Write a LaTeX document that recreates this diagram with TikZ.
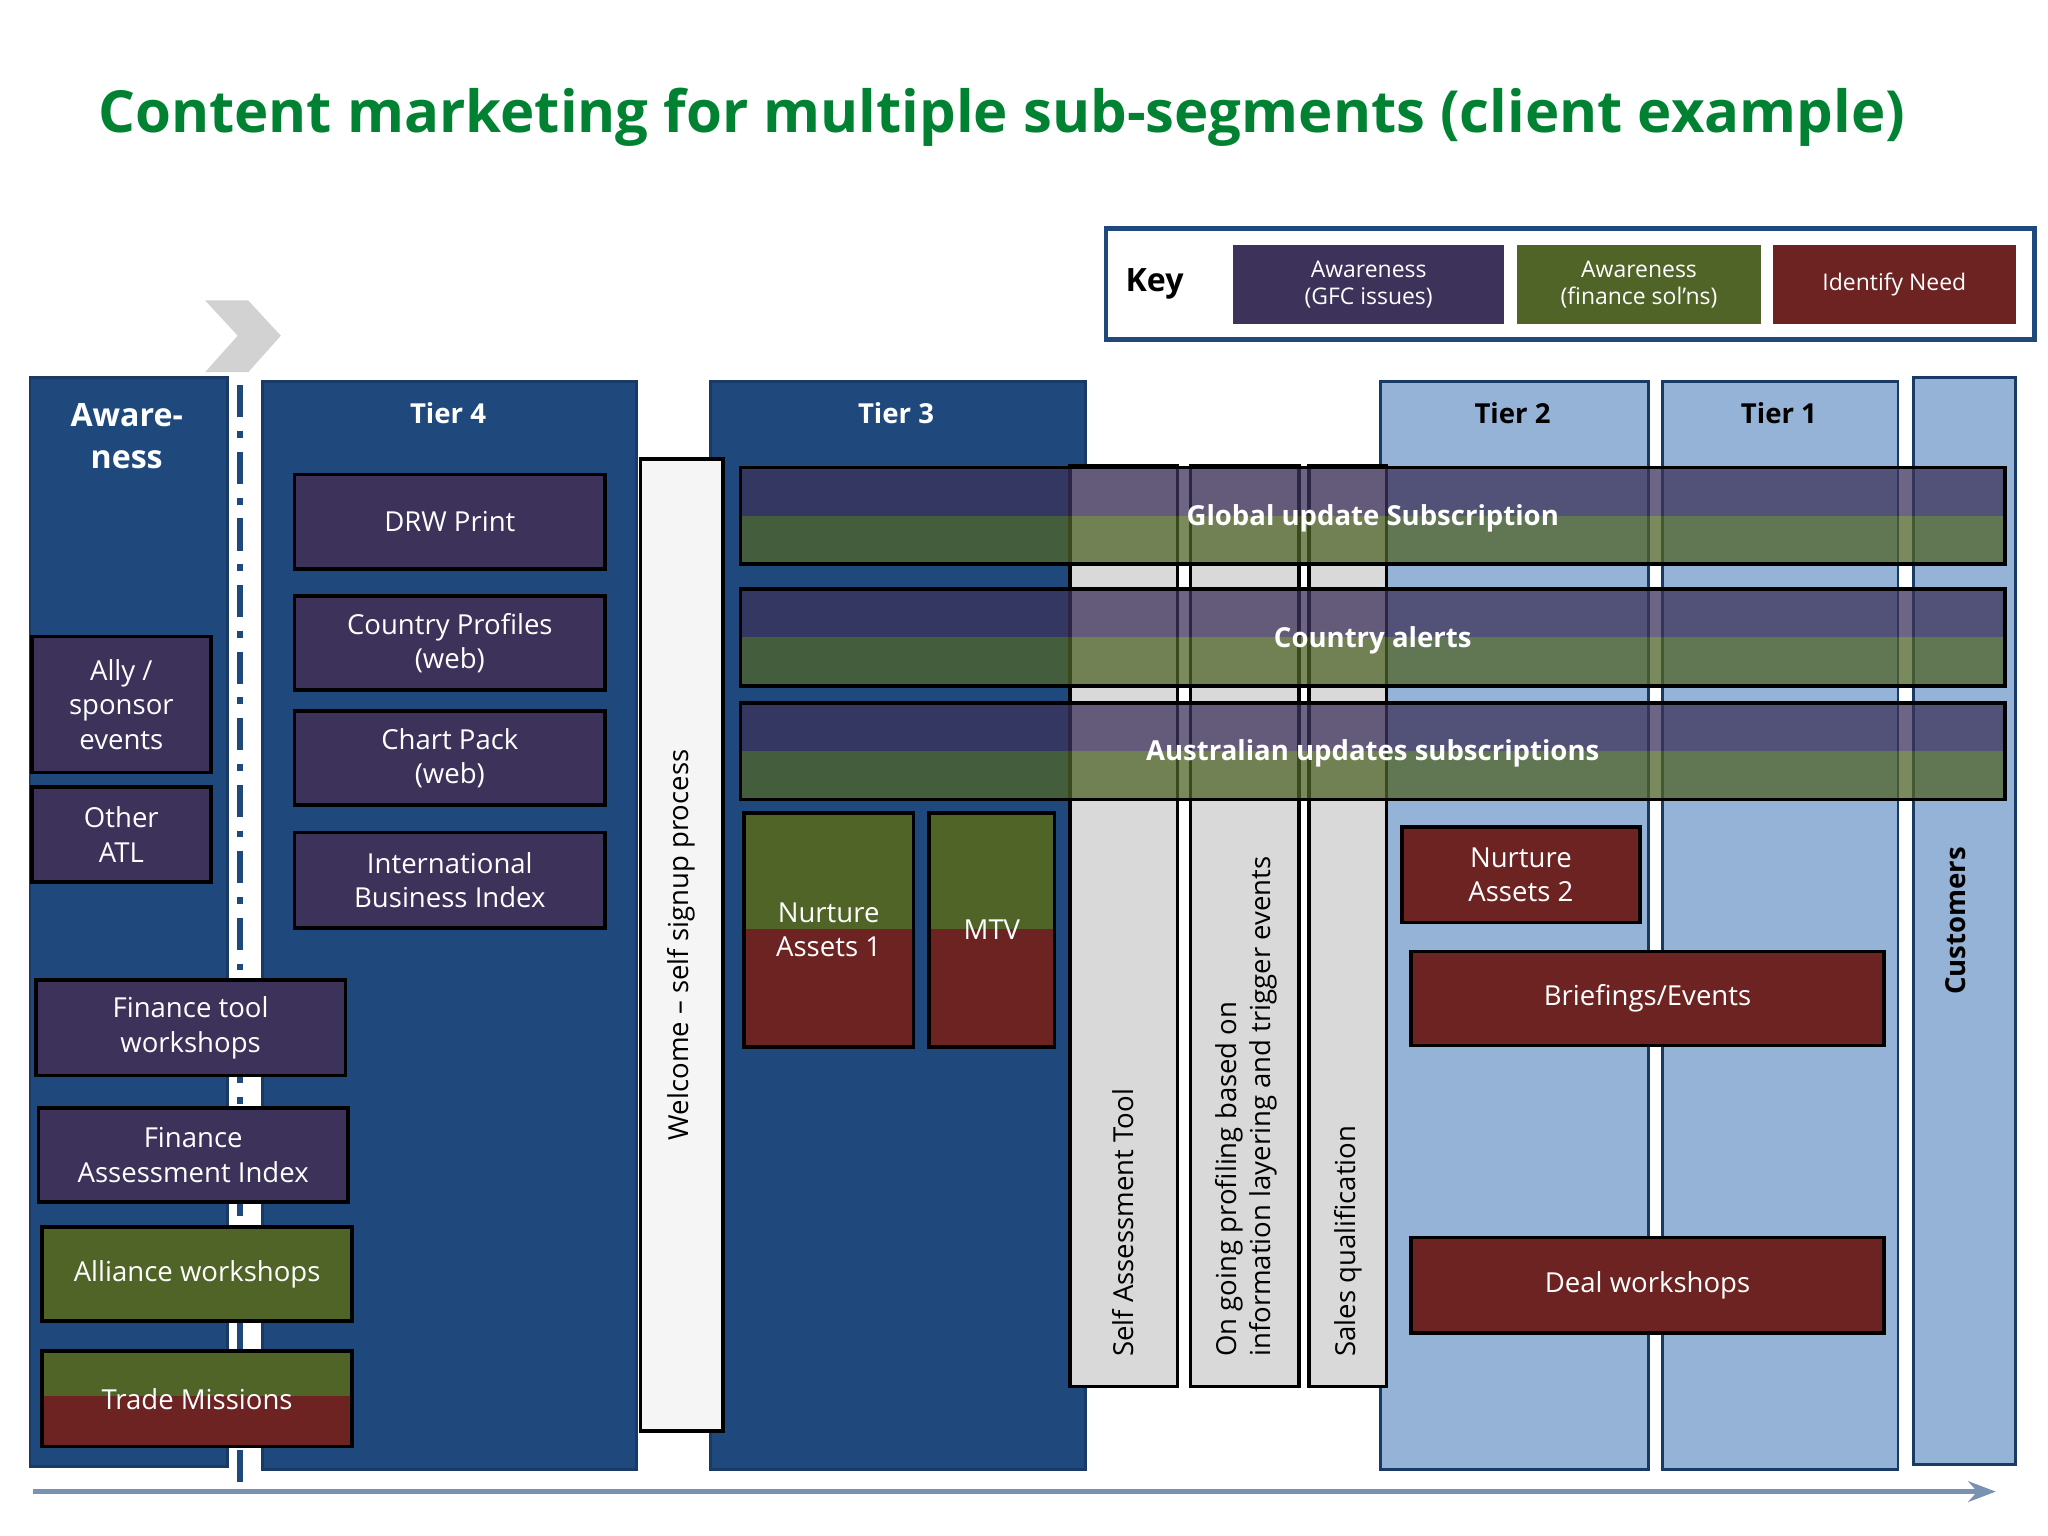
\documentclass[tikz,border=0pt]{standalone}
\usepackage{fontspec}
\setmainfont{Open Sans}
\usetikzlibrary{arrows.meta}
\definecolor{tierblue}{RGB}{31,73,125}
\definecolor{lightblue}{RGB}{149,179,215}
\definecolor{awpurple}{RGB}{60,50,90}
\definecolor{awgreen}{RGB}{80,100,40}
\definecolor{needred}{RGB}{110,35,35}
\definecolor{titlegreen}{RGB}{0,130,50}
\definecolor{greycol}{RGB}{217,217,217}
\tikzset{
  box/.style={draw=black,line width=1.6pt,text=white,align=center,font=\fontsize{12}{15}\selectfont},
  column/.style={draw=tierblue!80!black,line width=1.2pt},
  header/.style={font=\bfseries\fontsize{12}{15}\selectfont},
  barlabel/.style={text=white,font=\bfseries\fontsize{12}{15}\selectfont},
}
% box from corner (x1,y1) to corner (x2,y2)
\newcommand{\boxat}[7]{%
  \node[#6,anchor=north west,inner sep=0pt,minimum width={(#4-#2)*0.02cm},minimum height={(#5-#3)*0.02cm}] (#1) at (#2,#3) {#7};}
\begin{document}
\begin{tikzpicture}[x=0.02cm,y=-0.02cm]
\useasboundingbox[fill=white] (0,0) rectangle (1568,1176);
% title
\node[text=titlegreen,font=\bfseries\fontsize{25.3}{30}\selectfont] (title) at (767,90) {Content marketing for multiple sub-segments (client example)};
% key
\boxat{key}{845}{173}{1556}{258}{draw=tierblue,line width=2pt,fill=white}{}
\node[font=\bfseries\fontsize{14}{16}\selectfont] (keylabel) at (884,217) {Key};
\boxat{keyA}{944}{187}{1151}{248}{fill=awpurple,text=white,align=center,font=\fontsize{10}{12}\selectfont}{Awareness\\(GFC issues)}
\boxat{keyB}{1161}{187}{1348}{248}{fill=awgreen,text=white,align=center,font=\fontsize{10}{12}\selectfont}{Awareness\\(finance sol'ns)}
\boxat{keyC}{1357}{187}{1543}{248}{fill=needred,text=white,align=center,font=\fontsize{10}{12}\selectfont}{Identify Need}
% chevron
\fill[gray!35] (157,230) -- (190,230) -- (215,257) -- (190,285) -- (157,285) -- (182,257) -- cycle;
% columns
\boxat{aware}{22}{288}{173}{1122}{column,fill=tierblue}{}
\boxat{tierfour}{200}{291}{486}{1124}{column,fill=tierblue}{}
\boxat{tierthree}{543}{291}{830}{1124}{column,fill=tierblue}{}
\boxat{tiertwo}{1056}{291}{1261}{1124}{column,fill=lightblue}{}
\boxat{tierone}{1272}{291}{1452}{1124}{column,fill=lightblue}{}
\boxat{customers}{1464}{288}{1542}{1120}{column,fill=lightblue}{}
\node[header,text=white,align=center,font=\bfseries\fontsize{14}{18}\selectfont] at (97,334) {Aware-\\ness};
\node[header,text=white] at (343,316) {Tier 4};
\node[header,text=white] at (686,316) {Tier 3};
\node[header] at (1158,316) {Tier 2};
\node[header] at (1362,316) {Tier 1};
\node[header,rotate=90] at (1497,705) {Customers};
% dashed divider
\draw[white,line width=6pt] (184,292) -- (184,1140);
\draw[tierblue,line width=2.5pt,dash pattern=on 14pt off 6pt on 3pt off 6pt] (184,295) -- (184,1138);
% welcome
\boxat{welcome}{489}{350}{552}{1094}{draw=black,line width=1.6pt,fill=gray!8}{}
\node[rotate=90,font=\fontsize{12}{15}\selectfont] at (welcome) {Welcome -- self signup process};
% grey process columns
\boxat{selfcol}{818}{355}{900}{1060}{draw=black,line width=1.6pt,fill=greycol}{}
\boxat{profcol}{910}{355}{993}{1060}{draw=black,line width=1.6pt,fill=greycol}{}
\boxat{salescol}{1001}{355}{1060}{1060}{draw=black,line width=1.6pt,fill=greycol}{}
\node[rotate=90,anchor=west,font=\fontsize{12}{15}\selectfont] at (860,1045) {Self Assessment Tool};
\node[rotate=90,anchor=north west,align=left,font=\fontsize{12}{15}\selectfont] at (924,1045) {On going profiling based on\\information layering and trigger events};
\node[rotate=90,anchor=west,font=\fontsize{12}{15}\selectfont] at (1032,1045) {Sales qualification};
% subscription bars
\foreach \name/\ya/\txt in {glob/358/Global update Subscription,ctry/451/Country alerts,aus/538/Australian updates subscriptions}{
  \fill[awpurple,opacity=0.75] (567,\ya) rectangle (1535,\ya+37);
  \fill[awgreen,opacity=0.75] (567,\ya+37) rectangle (1535,\ya+74);
  \draw[black,line width=1.6pt] (567,\ya) rectangle (1535,\ya+74);
  \node[barlabel] (\name) at (1051,\ya+39) {\txt};
}
% tier 4 boxes
\boxat{drw}{224}{362}{462}{434}{box,fill=awpurple}{DRW Print}
\boxat{profiles}{224}{455}{462}{527}{box,fill=awpurple}{Country Profiles\\(web)}
\boxat{chart}{224}{543}{462}{615}{box,fill=awpurple}{Chart Pack\\(web)}
\boxat{ibi}{224}{636}{462}{709}{box,fill=awpurple}{International\\Business Index}
% awareness boxes
\boxat{ally}{23}{486}{160}{590}{box,fill=awpurple}{Ally /\\sponsor\\events}
\boxat{atl}{23}{601}{160}{674}{box,fill=awpurple}{Other\\ATL}
\boxat{ftool}{26}{749}{263}{822}{box,fill=awpurple}{Finance tool\\workshops}
\boxat{fai}{28}{847}{265}{919}{box,fill=awpurple}{Finance\\Assessment Index}
\boxat{alliance}{31}{938}{268}{1010}{box,fill=awgreen}{Alliance workshops}
\fill[awgreen] (31,1033) rectangle (268,1069);
\fill[needred] (31,1069) rectangle (268,1106);
\boxat{trade}{31}{1033}{268}{1106}{box}{Trade Missions}
% tier 3 boxes
\fill[awgreen] (568,621) rectangle (698,711);
\fill[needred] (568,711) rectangle (698,800);
\boxat{nurone}{568}{621}{698}{800}{box}{Nurture\\Assets 1}
\fill[awgreen] (710,621) rectangle (806,711);
\fill[needred] (710,711) rectangle (806,800);
\boxat{mtv}{710}{621}{806}{800}{box}{MTV}
% tier 2 / tier 1 boxes
\boxat{nurtwo}{1072}{632}{1254}{705}{box,fill=needred}{Nurture\\Assets 2}
\boxat{brief}{1079}{727}{1441}{799}{box,fill=needred}{Briefings/Events}
\boxat{deal}{1079}{946}{1441}{1019}{box,fill=needred}{Deal workshops}
% time arrow
\coordinate (arrowstart) at (25,1142);
\coordinate (arrowend) at (1528,1142);
\draw[tierblue!60,line width=2pt,-{Stealth[length=12pt]}] (arrowstart) -- (arrowend);
\end{tikzpicture}
\end{document}
